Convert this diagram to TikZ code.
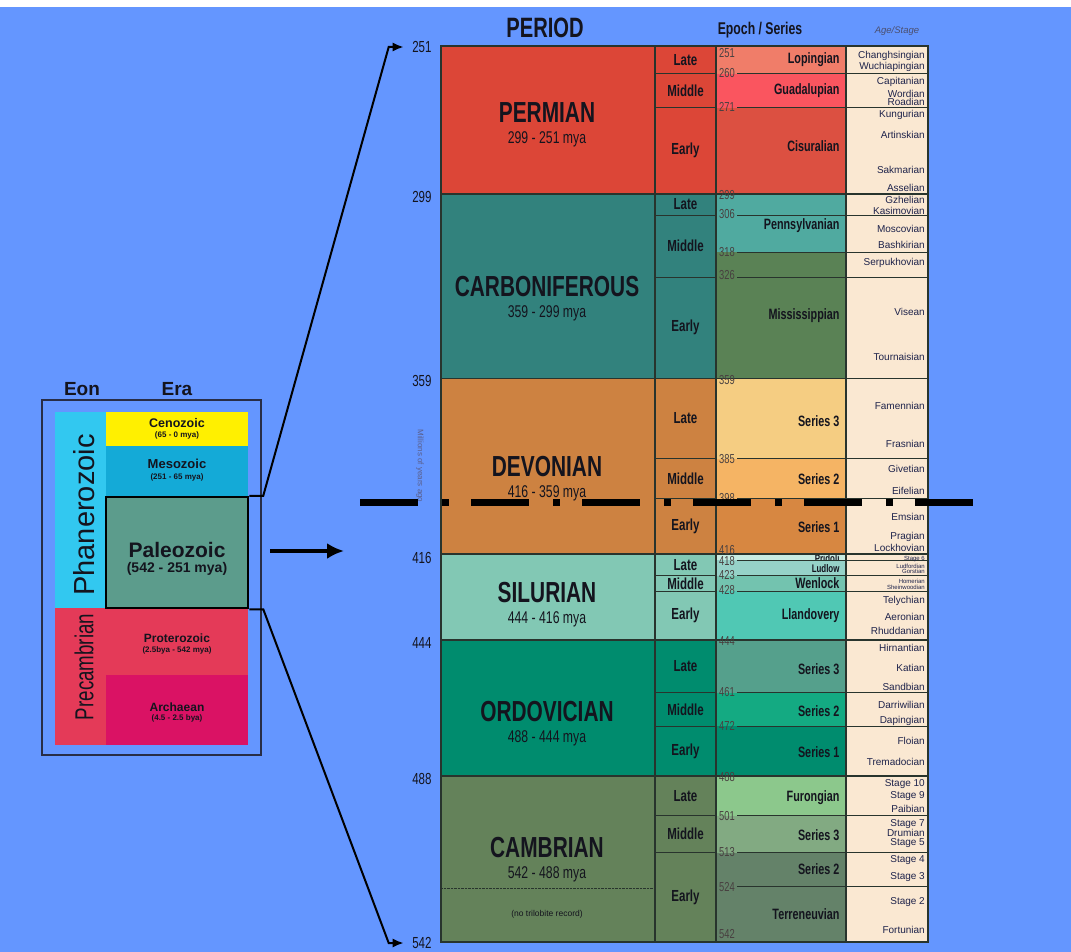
\documentclass[tikz,border=0pt]{standalone}
\usepackage{fontspec}
\setmainfont{Liberation Sans}
\newfontfamily\narrowfont[FakeStretch=0.78]{Liberation Sans}
\newfontfamily\slimfont[FakeStretch=0.72]{Liberation Sans}
\usetikzlibrary{arrows.meta,positioning}
\definecolor{SkyBack}{RGB}{100,150,255}
\definecolor{InkDark}{RGB}{20,20,30}
\definecolor{PanelLine}{RGB}{40,45,70}
\definecolor{StageInk}{RGB}{30,35,75}
\definecolor{NumInk}{RGB}{72,64,64}
\definecolor{AxisInk}{RGB}{90,95,140}
\definecolor{StageBg}{RGB}{250,232,210}
\definecolor{GridLine}{RGB}{40,52,45}
\definecolor{PhanCol}{RGB}{50,200,240}
\definecolor{PreCol}{RGB}{228,58,88}
\definecolor{CenoCol}{RGB}{255,240,0}
\definecolor{MesoCol}{RGB}{20,170,215}
\definecolor{PaleoCol}{RGB}{92,156,140}
\definecolor{ArchCol}{RGB}{218,18,100}
\definecolor{PermCol}{RGB}{220,70,55}
\definecolor{CarbCol}{RGB}{50,130,125}
\definecolor{DevoCol}{RGB}{205,130,65}
\definecolor{SiluCol}{RGB}{130,200,180}
\definecolor{OrdoCol}{RGB}{0,140,110}
\definecolor{CambCol}{RGB}{100,130,90}
\definecolor{SerLop}{RGB}{240,125,105}
\definecolor{SerGua}{RGB}{250,85,95}
\definecolor{SerCis}{RGB}{220,80,65}
\definecolor{SerPen}{RGB}{80,170,160}
\definecolor{SerMis}{RGB}{90,130,85}
\definecolor{SerDevC}{RGB}{245,205,130}
\definecolor{SerDevB}{RGB}{245,180,100}
\definecolor{SerDevA}{RGB}{215,135,65}
\definecolor{SerPri}{RGB}{200,235,225}
\definecolor{SerLud}{RGB}{150,210,200}
\definecolor{SerWen}{RGB}{115,195,175}
\definecolor{SerLla}{RGB}{80,200,180}
\definecolor{SerOrdC}{RGB}{85,160,140}
\definecolor{SerOrdB}{RGB}{20,170,130}
\definecolor{SerOrdA}{RGB}{0,140,110}
\definecolor{SerFur}{RGB}{140,200,140}
\definecolor{SerCamC}{RGB}{130,170,130}
\definecolor{SerCamB}{RGB}{100,130,105}

\tikzset{
  panelhead/.style={font=\fontsize{19}{20}\selectfont\bfseries, text=InkDark},
  eonlabel/.style={font=\fontsize{29}{30}\selectfont, text=InkDark, rotate=90},
  eraname/.style={font=\fontsize{12.5}{13}\selectfont\bfseries, text=InkDark},
  eraspan/.style={font=\fontsize{8}{9}\selectfont\bfseries, text=InkDark},
  colhead/.style={font=\slimfont\fontsize{17}{18}\selectfont\bfseries, text=InkDark},
  periodname/.style={font=\slimfont\fontsize{29}{30}\selectfont\bfseries, text=InkDark},
  periodspan/.style={font=\slimfont\fontsize{17}{18}\selectfont, text=InkDark},
  subepoch/.style={font=\slimfont\fontsize{16}{17}\selectfont\bfseries, text=InkDark},
  serieslabel/.style={anchor=east, text=InkDark},
  boundnum/.style={anchor=west, font=\slimfont\fontsize{13}{13}\selectfont, text=NumInk, inner sep=0pt},
  agelabel/.style={anchor=east, font=\slimfont\fontsize{16}{16}\selectfont, text=InkDark},
  stagelabel/.style={anchor=east, font=\fontsize{10}{10}\selectfont, text=StageInk, inner sep=1pt},
  tinystage/.style={anchor=east, font=\fontsize{6}{6}\selectfont, text=StageInk, inner sep=1pt},
  linkline/.style={line width=2pt, black, -{Latex[length=11pt,width=9pt]}, shorten >=5pt},
  cellline/.style={draw=GridLine, line width=0.8pt},
  periodline/.style={draw=GridLine, line width=1.6pt}
}

\begin{document}
\begin{tikzpicture}[x=1pt, y=-1pt, declare function={ma(\a)=46+(\a-251)*3.079;}]
\useasboundingbox (0,0) rectangle (1071,952);
\fill[SkyBack] (0,0) rectangle (1071,952);
\fill[white] (0,0) rectangle (1071,7);

% eon and era panel
\draw[PanelLine, line width=1.2pt] (42,400) rectangle (261,755);
\node[panelhead] (eonhead) at (82,389) {Eon};
\node[panelhead] (erahead) at (177,389) {Era};
\fill[PhanCol] (55,412) rectangle (106,608);
\fill[PreCol] (55,608) rectangle (106,745);
\fill[CenoCol] (106,412) rectangle (248,446);
\fill[MesoCol] (106,446) rectangle (248,497);
\fill[PreCol] (106,608) rectangle (248,675);
\fill[ArchCol] (106,675) rectangle (248,745);
\node[draw=black, line width=2.5pt, fill=PaleoCol, minimum width=142pt, minimum height=111pt, inner sep=0pt] (paleo) at (177,552.5) {};

\node[eonlabel] (phan) at (84,515) {Phanerozoic};
\node[eonlabel, font=\slimfont\fontsize{26}{28}\selectfont] (precam) at (84,667) {Precambrian};

\node[eraname] (ceno) at (177,423) {Cenozoic};
\node[eraspan] (ceno-span) at (177,435) {(65 - 0 mya)};
\node[eraname, font=\fontsize{13}{14}\selectfont\bfseries] (meso) at (177,464) {Mesozoic};
\node[eraspan] (meso-span) at (177,477) {(251 - 65 mya)};
\node[eraname, font=\fontsize{21}{22}\selectfont\bfseries] (paleo-name) at (177,550) {Paleozoic};
\node[eraname, font=\fontsize{14}{15}\selectfont\bfseries] (paleo-span) at (177,569) {(542 - 251 mya)};
\node[eraname, font=\fontsize{12}{13}\selectfont\bfseries] (protero) at (177,638) {Proterozoic};
\node[eraspan] (protero-span) at (177,650) {(2.5bya - 542 mya)};
\node[eraname, font=\fontsize{12}{13}\selectfont\bfseries] (archae) at (177,707) {Archaean};
\node[eraspan] (archae-span) at (177,718) {(4.5 - 2.5 bya)};

% ages beside the chart
\foreach \a/\yy in {251/47, 299/197, 359/381, 416/558, 444/643, 488/779, 542/943}
  \node[agelabel] (t\a) at (435,\yy) {\a};
\node[rotate=-90, font=\fontsize{8}{8}\selectfont, text=AxisInk] (axisname) at (420,466) {Millions of years ago};

\draw[linkline] (paleo.north east) -- ++(14pt,0pt) -- ([xshift=-20pt]t251.west) -- (t251.west);
\draw[linkline] (paleo.south east) -- ++(14pt,0pt) -- ([xshift=-20pt]t542.west) -- (t542.west);

\coordinate (bigfrom) at (270,551);
\coordinate (bigto) at (344,551);
\draw[line width=4.5pt, -{Latex[length=17pt,width=16pt]}] (bigfrom) -- (bigto);

% column heads
\node[colhead, font=\slimfont\fontsize{28}{28}\selectfont\bfseries] (periodhead) at (545,28) {PERIOD};
\node[colhead] (serieshead) at (760,30) {Epoch / Series};
\node[font=\fontsize{9.5}{10}\selectfont\itshape, text=StageInk!80] (stagehead) at (897,31) {Age/Stage};

% periods
\foreach \ta/\tb/\col/\nm/\rg/\yn in {
  251/299/PermCol/PERMIAN/299 - 251 mya/113,
  299/359/CarbCol/CARBONIFEROUS/359 - 299 mya/287,
  359/416/DevoCol/DEVONIAN/416 - 359 mya/467,
  416/444/SiluCol/SILURIAN/444 - 416 mya/593,
  444/488/OrdoCol/ORDOVICIAN/488 - 444 mya/712,
  488/542/CambCol/CAMBRIAN/542 - 488 mya/848}
{
  \fill[\col] (441,{ma(\ta)}) rectangle (655,{ma(\tb)});
  \node[periodname] (\nm) at (547,\yn) {\nm};
  \node[periodspan] (\nm-span) at (547,{\yn+26}) {\rg};
}
\draw[GridLine, densely dotted] (441,888) -- (655,888);
\node[font=\fontsize{8.5}{9}\selectfont, text=InkDark] (notrilo) at (547,914) {(no trilobite record)};

% late / middle / early
\foreach \ta/\tb/\col/\lab [count=\i] in {
  251/260/PermCol/Late, 260/271/PermCol/Middle, 271/299/PermCol/Early,
  299/306/CarbCol/Late, 306/326/CarbCol/Middle, 326/359/CarbCol/Early,
  359/385/DevoCol/Late, 385/398/DevoCol/Middle, 398/416/DevoCol/Early,
  416/423/SiluCol/Late, 423/428/SiluCol/Middle, 428/444/SiluCol/Early,
  444/461/OrdoCol/Late, 461/472/OrdoCol/Middle, 472/488/OrdoCol/Early,
  488/501/CambCol/Late, 501/513/CambCol/Middle, 513/542/CambCol/Early}
{
  \filldraw[cellline, fill=\col] (655,{ma(\ta)}) rectangle (716,{ma(\tb)});
  \node[subepoch] (sub\i) at (685.5,{(ma(\ta)+ma(\tb))/2}) {\lab};
}

% epochs / series
\fill[StageBg] (846,46) rectangle (928,942);
\foreach \ta/\tb/\col/\lab/\fs/\dy [count=\i] in {
  251/260/SerLop/Lopingian/15/0, 260/271/SerGua/Guadalupian/15/0, 271/299/SerCis/Cisuralian/15/-5,
  299/318/SerPen/Pennsylvanian/15/3, 318/359/SerMis/Mississippian/15/0,
  359/385/SerDevC/Series 3/15/3, 385/398/SerDevB/Series 2/15/1, 398/416/SerDevA/Series 1/15/1,
  416/418/SerPri/Pridoli/11/1, 418/423/SerLud/Ludlow/11/1, 423/428/SerWen/Wenlock/15/0,
  428/444/SerLla/Llandovery/15/0,
  444/461/SerOrdC/Series 3/15/3, 461/472/SerOrdB/Series 2/15/2, 472/488/SerOrdA/Series 1/15/1,
  488/501/SerFur/Furongian/15/2, 501/513/SerCamC/Series 3/15/1, 513/524/SerCamB/Series 2/15/0,
  524/542/SerCamB/Terreneuvian/15/0}
{
  \fill[\col] (716,{ma(\ta)}) rectangle (846,{ma(\tb)});
  \node[serieslabel, font=\slimfont\fontsize{\fs}{\fs}\selectfont\bfseries] (ser\i) at (843,{(ma(\ta)+ma(\tb))/2+\dy}) {\lab};
}

\foreach \a in {260,271,306,318,326,385,398,418,423,428,461,472,501,513,524}
  \draw[cellline] (737,{ma(\a)}) -- (928,{ma(\a)});
\foreach \a in {299,359,416,444,488}
  \draw[periodline] (441,{ma(\a)}) -- (928,{ma(\a)});

\foreach \a/\yy in {251/53, 260/73, 271/107, 299/195, 306/214, 318/252, 326/275, 359/380,
  385/459, 398/498, 416/550, 418/561, 423/575, 428/590, 444/641, 461/692, 472/726,
  488/777, 501/816, 513/852, 524/887, 542/934}
  \node[boundnum] (n\a) at (719,\yy) {\a};

% ages / stages
\foreach \yy/\txt [count=\i] in {
  56/Changhsingian, 67/Wuchiapingian, 82/Capitanian, 94/Wordian, 102/Roadian,
  115/Kungurian, 135/Artinskian, 170/Sakmarian, 188/Asselian,
  200/Gzhelian, 211/Kasimovian, 229/Moscovian, 245/Bashkirian, 263/Serpukhovian,
  312/Visean, 357/Tournaisian,
  406/Famennian, 444/Frasnian, 469/Givetian, 491/Eifelian, 517/Emsian, 537/Pragian,
  548/Lockhovian,
  601/Telychian, 617/Aeronian, 631/Rhuddanian,
  648/Hirnantian, 668/Katian, 687/Sandbian, 705/Darriwilian, 721/Dapingian,
  741/Floian, 762/Tremadocian,
  784/Stage 10, 796/Stage 9, 809/Paibian, 824/Stage 7, 833/Drumian, 843/Stage 5,
  860/Stage 4, 877/Stage 3, 902/Stage 2, 930/Fortunian}
  \node[stagelabel] (stage\i) at (926,\yy) {\txt};
\foreach \yy/\txt [count=\i] in {559/Stage 6, 566/Ludfordian, 571/Gorstian, 581/Homerian, 587/Sheinwoodian}
  \node[tinystage] (small\i) at (926,\yy) {\txt};

% frame
\draw[GridLine, line width=1.2pt] (655,46) -- (655,942);
\draw[GridLine, line width=1.6pt] (716,46) -- (716,942);
\draw[GridLine, line width=1.6pt] (846,46) -- (846,942);
\draw[GridLine, line width=1.8pt] (441,46) rectangle (928,942);

% cut line
\coordinate (cutfrom) at (360,502);
\coordinate (cutto) at (975,502);
\draw[line width=7pt, dash pattern=on 58pt off 24pt on 7pt off 22pt] (cutfrom) -- (cutto);
\end{tikzpicture}
\end{document}
